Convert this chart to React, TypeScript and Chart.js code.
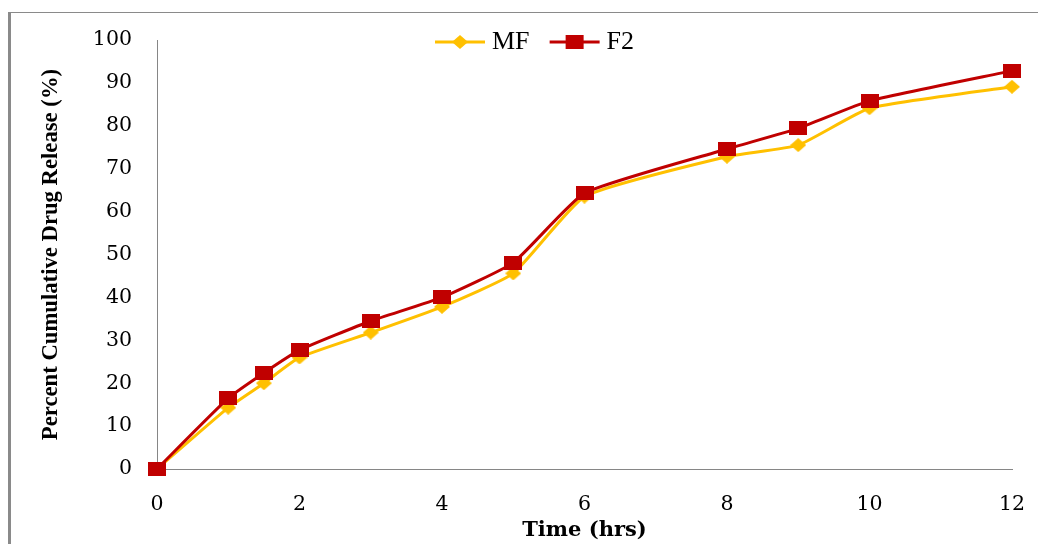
import React, { useEffect, useRef } from 'react';
import { Chart, registerables } from 'chart.js';

Chart.register(...registerables);

const timeHrs = [0, 1, 1.5, 2, 3, 4, 5, 6, 8, 9, 10, 12];
const mfRelease = [0, 14.3, 20.0, 26.0, 31.8, 37.8, 45.6, 63.5, 72.8, 75.5, 84.1, 89.1];
const f2Release = [0, 16.5, 22.4, 27.7, 34.5, 40.0, 48.1, 64.3, 74.6, 79.4, 85.8, 92.8];
const seriesLabels = ['MF', 'F2'];
const xTickValues = [0, 2, 4, 6, 8, 10, 12];
const yTickValues = [0, 10, 20, 30, 40, 50, 60, 70, 80, 90, 100];
const xTitle = 'Time (hrs)';
const yTitle = 'Percent Cumulative Drug Release (%)';

const MF_COLOR = '#FFC000';
const F2_COLOR = '#C00000';
const AXIS_COLOR = '#868686';

function markerCanvas(kind: 'diamond' | 'rect', color: string) {
  const w = kind === 'rect' ? 18 : 16;
  const h = 14;
  const c = document.createElement('canvas');
  c.width = w;
  c.height = h;
  const g = c.getContext('2d')!;
  g.fillStyle = color;
  if (kind === 'rect') {
    g.fillRect(0, 0, w, h);
  } else {
    g.beginPath();
    g.moveTo(w / 2, 0);
    g.lineTo(w, h / 2);
    g.lineTo(w / 2, h);
    g.lineTo(0, h / 2);
    g.closePath();
    g.fill();
  }
  return c;
}

function legendIcon(kind: 'diamond' | 'rect', color: string) {
  const c = document.createElement('canvas');
  c.width = 58;
  c.height = 16;
  const g = c.getContext('2d')!;
  g.strokeStyle = color;
  g.lineWidth = 3;
  g.beginPath();
  g.moveTo(4, 8);
  g.lineTo(54, 8);
  g.stroke();
  const m = markerCanvas(kind, color);
  g.drawImage(m, 29 - m.width / 2, 8 - m.height / 2);
  return c;
}

const legendPlacement = {
  id: 'legendPlacement',
  afterLayout(chart: any) {
    const lg = chart.legend;
    if (!lg) return;
    const pad = 26;
    lg.left = 441 - pad;
    lg.right = 1000;
    lg.top = 29 - pad;
    lg.bottom = 90;
  },
};

export default function App() {
  const ref = useRef<HTMLCanvasElement | null>(null);

  useEffect(() => {
    if (!ref.current) return;
    const mfMarker = markerCanvas('diamond', MF_COLOR);
    const f2Marker = markerCanvas('rect', F2_COLOR);
    const icons = [legendIcon('diamond', MF_COLOR), legendIcon('rect', F2_COLOR)];

    const chart = new Chart(ref.current, {
      type: 'line',
      data: {
        datasets: [
          {
            label: seriesLabels[0],
            data: timeHrs.map((t, i) => ({ x: t, y: mfRelease[i] })),
            borderColor: MF_COLOR,
            backgroundColor: MF_COLOR,
            borderWidth: 3,
            pointStyle: mfMarker as any,
            pointRadius: 8,
            tension: 0.15,
            clip: false as any,
            order: 2,
          },
          {
            label: seriesLabels[1],
            data: timeHrs.map((t, i) => ({ x: t, y: f2Release[i] })),
            borderColor: F2_COLOR,
            backgroundColor: F2_COLOR,
            borderWidth: 3,
            pointStyle: f2Marker as any,
            pointRadius: 9,
            tension: 0.15,
            clip: false as any,
            order: 1,
          },
        ],
      },
      options: {
        responsive: false,
        animation: false,
        devicePixelRatio: 1,
        layout: { padding: { left: 0, right: 26, top: 0, bottom: 0 } },
        plugins: {
          tooltip: { enabled: false },
          legend: {
            display: true,
            position: 'top',
            align: 'start',
            maxHeight: 40,
            labels: {
              usePointStyle: true,
              pointStyleWidth: 38,
              padding: 26,
              color: '#000',
              font: { family: '"Liberation Serif", "Times New Roman", serif', size: 26 },
              sort: (a: any, b: any) => a.datasetIndex - b.datasetIndex,
              generateLabels: (c: any) => {
                const items = (Chart.defaults.plugins.legend.labels as any).generateLabels(c);
                return items.map((it: any) => ({ ...it, pointStyle: icons[it.datasetIndex], fontColor: '#000' }));
              },
            },
          },
        },
        scales: {
          x: {
            type: 'linear',
            min: 0,
            max: 12,
            afterBuildTicks: (s: any) => {
              s.ticks = xTickValues.map((v) => ({ value: v }));
            },
            afterFit: (s: any) => {
              s.height = 75;
              s.paddingRight = 14;
              s.paddingLeft = 14;
            },
            grid: { display: false, drawTicks: false },
            border: { display: true, color: AXIS_COLOR, width: 1 },
            ticks: {
              color: '#000',
              padding: 23,
              autoSkip: false,
              maxRotation: 0,
              font: { family: '"DejaVu Serif", serif', size: 20.5 },
            },
            title: {
              display: true,
              text: xTitle,
              color: '#000',
              padding: { top: 0, bottom: 1 },
              font: { family: '"DejaVu Serif", serif', size: 21, weight: 'bold' },
            },
          },
          y: {
            type: 'linear',
            min: 0,
            max: 100,
            afterBuildTicks: (s: any) => {
              s.ticks = yTickValues.map((v) => ({ value: v }));
            },
            afterFit: (s: any) => {
              s.width = 157;
            },
            grid: { display: false, drawTicks: false },
            border: { display: true, color: AXIS_COLOR, width: 1 },
            ticks: {
              color: '#000',
              padding: 25,
              font: { family: '"DejaVu Serif", serif', size: 20.5 },
            },
            title: {
              display: true,
              text: yTitle,
              color: '#000',
              padding: { top: 38, bottom: 0 },
              font: { family: '"Liberation Serif", "Times New Roman", serif', size: 22.7, weight: 'bold' },
            },
          },
        },
      },
      plugins: [legendPlacement],
    });
    return () => chart.destroy();
  }, []);

  return (
    <div style={{ position: 'absolute', left: 0, top: 0, width: 1038, height: 544, background: '#fff', overflow: 'hidden' }}>
      <div
        style={{
          position: 'absolute',
          left: 8,
          top: 12,
          width: 1040,
          height: 540,
          borderLeft: '3px solid #8a8a8a',
          borderTop: '1px solid #8a8a8a',
        }}
      />
      <canvas ref={ref} width={1038} height={544} style={{ position: 'absolute', left: 0, top: 0 }} />
    </div>
  );
}
